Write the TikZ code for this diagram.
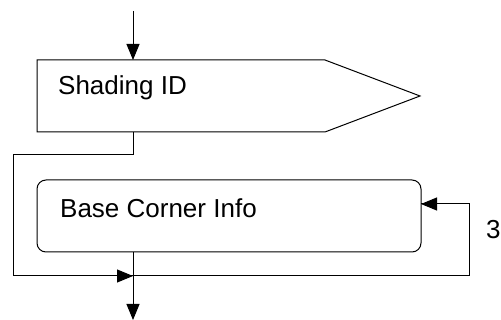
\documentclass[tikz,border=0pt]{standalone}
\usepackage{fontspec}
\setmainfont{Liberation Sans}
\usetikzlibrary{arrows.meta}
\begin{document}
\begin{tikzpicture}[x=1pt,y=-1pt,
  line/.style={line width=1pt,line join=miter},
  arr/.style={line,-{Triangle[length=16pt,width=13pt]}},
  lbl/.style={font=\fontsize{26}{30}\selectfont,inner sep=0pt}]
\useasboundingbox (0,0) rectangle (501,320);
% Shading ID pentagon
\draw[line] (37,60) -- (325,60) -- (420,96) -- (325,132) -- (37,132) -- cycle;
\coordinate (sTop) at (133,60);
\coordinate (sBot) at (133,132);
\coordinate (start) at (133,11);
\node[lbl,anchor=base west] (shad) at (58,95) {Shading ID};
% Base Corner Info rounded box
\draw[line,rounded corners=9pt] (37,180) rectangle (421,252);
\coordinate (bBot) at (133,252);
\coordinate (bRight) at (421,204);
\node[lbl,anchor=base west] (base) at (60,218) {Base Corner Info};
\coordinate (join) at (133,276);
\coordinate (endp) at (133,320);
\node[lbl,anchor=base west] (three) at (486,239) {3};
% connectors
\draw[arr] (start) -- (sTop);
\draw[line] (sBot) -- (133,155) -- (13,155) -- (13,276) -- (join);
\draw[arr] (13,276) -- (join);
\draw[line] (bBot) -- (join);
\draw[line] (join) -- (469,276) -- (469,204) -- (bRight);
\draw[arr] (469,204) -- (bRight);
\draw[arr] (join) -- (endp);
\end{tikzpicture}
\end{document}
